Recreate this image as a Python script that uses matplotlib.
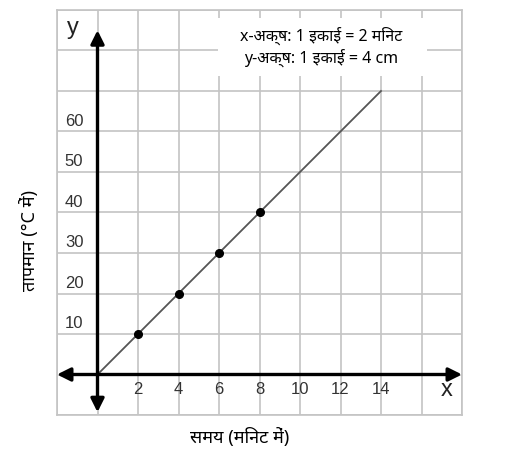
import matplotlib
matplotlib.use("Agg")
import matplotlib.pyplot as plt
from matplotlib.patches import Rectangle

# data: time (minutes) vs temperature (degC)
time_min = [0, 14]
temp_c = [0, 70]
pt_time = [2, 4, 6, 8]
pt_temp = [10, 20, 30, 40]

x_ticks = [2, 4, 6, 8, 10, 12, 14]
y_ticks = [10, 20, 30, 40, 50, 60]

hindi = ["Noto Sans", "DejaVu Sans"]
num_font = ["Liberation Sans", "DejaVu Sans"]

fig = plt.figure(figsize=(5.05, 4.61), dpi=100)
ax = fig.add_axes([57 / 505, 46 / 461, 405 / 505, 405 / 461])
ax.set_xlim(-2, 18)
ax.set_ylim(-10, 90)

# graph-paper grid
ax.set_xticks(range(-2, 19, 2))
ax.set_yticks(range(-10, 91, 10))
ax.tick_params(length=0, labelbottom=False, labelleft=False)
ax.grid(True, color="#c4c4c4", lw=1.2)
for s in ax.spines.values():
    s.set_color("#c4c4c4")
    s.set_linewidth(1.2)

# label box (white patch over the grid)
ax.add_patch(Rectangle((5.95, 73.8), 10.3, 14.2, facecolor="white",
                       edgecolor="none", zorder=3))
ax.text(11.05, 81.0, "x-अक्ष: 1 इकाई = 2 मिनट\ny-अक्ष: 1 इकाई = 4 cm",
        ha="center", va="center", fontsize=11.5, family=hindi,
        linespacing=1.25, zorder=4)

# axes with arrows
ax.annotate("", xy=(18, 0), xytext=(-2, 0),
            arrowprops=dict(arrowstyle="<|-|>", lw=2.4, color="black",
                            mutation_scale=20, shrinkA=0, shrinkB=0),
            annotation_clip=False, zorder=5)
ax.annotate("", xy=(0, 85), xytext=(0, -9.3),
            arrowprops=dict(arrowstyle="<|-|>", lw=2.4, color="black",
                            mutation_scale=20, shrinkA=0, shrinkB=0),
            annotation_clip=False, zorder=5)

# the line and points
ax.plot(time_min, temp_c, color="#555555", lw=1.3, zorder=4)
ax.plot(pt_time, pt_temp, "o", color="black", ms=5.5, zorder=6)

for v in x_ticks:
    ax.text(v, -1.8, str(v), ha="center", va="top", fontsize=12,
            family=num_font, color="#333333", zorder=4)
for v in y_ticks:
    ax.text(-0.7, v + 0.7, str(v), ha="right", va="bottom", fontsize=12,
            family=num_font, color="#333333", zorder=4)

ax.text(17.26, -3.9, "x", ha="center", va="center", fontsize=17,
        family=num_font, color="#222222", zorder=4)
ax.text(-1.22, 85.6, "y", ha="center", va="center", fontsize=17,
        family=num_font, color="#222222", zorder=4)

fig.text(0.475, 0.052, "समय (मिनट में)", ha="center", va="center",
         fontsize=13, family=hindi)
fig.text(0.059, 0.479, "तापमान (°C में)", ha="center", va="center",
         fontsize=13, family=hindi, rotation=90)

fig.savefig("out.png")
